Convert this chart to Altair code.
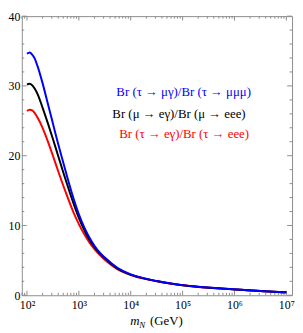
import altair as alt
import pandas as pd

# ---- data ----
log_m = [2.00, 2.05, 2.10, 2.15, 2.20, 2.30, 2.40, 2.50, 2.60, 2.70, 2.80, 2.90, 3.00, 3.10, 3.20,
         3.30, 3.40, 3.50, 3.75, 4.00, 4.25, 4.50, 4.75, 5.00, 5.25, 5.50, 5.75, 6.00, 6.25,
         6.50, 6.75, 7.00]
blue_vals = [34.6, 34.8, 34.5, 33.9, 32.9, 30.4, 27.5, 24.6, 21.7, 19.0, 16.3, 13.8, 11.6, 9.8, 8.3,
             7.1, 6.15, 5.4, 3.9, 3.0, 2.45, 2.05, 1.72, 1.45, 1.25, 1.10, 0.97, 0.85, 0.73,
             0.62, 0.50, 0.42]
black_vals = [30.2, 30.3, 30.1, 29.6, 28.9, 26.9, 24.7, 22.4, 20.0, 17.6, 15.3, 13.1, 11.1, 9.4, 8.0,
              6.9, 6.0, 5.3, 3.8, 2.95, 2.42, 2.03, 1.70, 1.44, 1.24, 1.09, 0.96, 0.84, 0.72,
              0.61, 0.50, 0.42]
red_vals = [26.4, 26.6, 26.5, 26.1, 25.5, 24.0, 22.1, 20.0, 17.8, 15.7, 13.7, 11.8, 10.2, 8.8, 7.6,
            6.6, 5.8, 5.1, 3.7, 2.9, 2.38, 2.00, 1.68, 1.42, 1.23, 1.08, 0.95, 0.83, 0.72,
            0.61, 0.50, 0.42]

labels = ["Br (τ → μγ)/Br (τ → μμμ)",
          "Br (μ → eγ)/Br (μ → eee)",
          "Br (τ → eγ)/Br (τ → eee)"]
label_colors = ["#0000ff", "#000000", "#ff0000"]
label_logx = [5.02, 4.93, 5.03]
label_y = [29.1, 26.0, 23.05]

x_major = [1e2, 1e3, 1e4, 1e5, 1e6, 1e7]
x_minor = [k * 10 ** n for n in range(1, 7) for k in range(2, 10) if 10 ** 1.9 <= k * 10 ** n <= 10 ** 7.11]
y_major = [0, 10, 20, 30, 40]
y_minor = [v for v in range(2, 40, 2) if v % 10 != 0]

# ---- layout ----
W, H = 274, 283
FONT = "Liberation Serif, Times New Roman, DejaVu Serif, serif"
FRAME = "#8c8c8c"

xs = alt.Scale(type="log", domain=[10 ** 1.9, 10 ** 7.11], nice=False)
ys = alt.Scale(domain=[0, 40], nice=False, zero=False)

xaxis = alt.Axis(values=x_major, ticks=False, domain=False, grid=False, title=None,
                 labelExpr="'10' + ['⁰','¹','²','³','⁴','⁵','⁶','⁷'][round(log(datum.value)/LN10)]",
                 labelFont=FONT, labelFontSize=12, labelColor="black", labelPadding=4,
                 labelFlush=False, labelOverlap=False)
yaxis = alt.Axis(values=y_major, ticks=False, domain=False, grid=False, title=None,
                 labelFont=FONT, labelFontSize=12, labelColor="black", labelPadding=2,
                 labelFlush=False, labelOverlap=False)


def curve(vals, color):
    df = pd.DataFrame({"m": [10 ** v for v in log_m], "val": vals})
    return alt.Chart(df).mark_line(color=color, strokeWidth=2, interpolate="monotone").encode(
        x=alt.X("m:Q", scale=xs, axis=xaxis),
        y=alt.Y("val:Q", scale=ys, axis=yaxis),
    )


def xticks(vals, y0, y1):
    return alt.Chart(pd.DataFrame({"m": vals})).mark_rule(color=FRAME, strokeWidth=1).encode(
        x=alt.X("m:Q", scale=xs, axis=xaxis), y=alt.value(y0), y2=alt.value(y1))


def yticks(vals, x0, x1):
    return alt.Chart(pd.DataFrame({"val": vals})).mark_rule(color=FRAME, strokeWidth=1).encode(
        y=alt.Y("val:Q", scale=ys, axis=yaxis), x=alt.value(x0), x2=alt.value(x1))


ticks = [
    xticks(x_major, H, H - 4.5), xticks(x_minor, H, H - 2.5),
    xticks(x_major, 0, 4.5), xticks(x_minor, 0, 2.5),
    yticks(y_major, 0, 5), yticks(y_minor, 0, 2.5),
    yticks(y_major, W, W - 5), yticks(y_minor, W, W - 2.5),
]

leg_df = pd.DataFrame({"m": [10 ** v for v in label_logx], "val": label_y,
                       "t": labels, "c": label_colors})
legend = alt.Chart(leg_df).mark_text(font=FONT, fontSize=13, align="center", baseline="middle").encode(
    x=alt.X("m:Q", scale=xs, axis=xaxis),
    y=alt.Y("val:Q", scale=ys, axis=yaxis),
    text="t:N",
    color=alt.Color("c:N", scale=None),
)


def title_part(txt, dx, dy, size, italic):
    kw = dict(font=FONT, fontSize=size, align="left", baseline="alphabetic", color="black")
    if italic:
        kw["fontStyle"] = "italic"
    return alt.Chart(pd.DataFrame({"t": [txt]})).mark_text(**kw).encode(
        text="t:N", x=alt.value(W / 2 + dx), y=alt.value(H + dy))


title = [
    title_part("m", -27, 30, 13, True),
    title_part("N", -18, 33, 9, True),
    title_part("(GeV)", -7, 30, 13, False),
]

chart = alt.layer(
    *ticks,
    curve(red_vals, "#ff0000"),
    curve(black_vals, "#000000"),
    curve(blue_vals, "#0000ff"),
    legend,
    *title,
).properties(width=W, height=H, padding=0).configure_view(stroke=FRAME, strokeWidth=1)

chart.save("out.html", embed_options={"renderer": "svg", "actions": False})
